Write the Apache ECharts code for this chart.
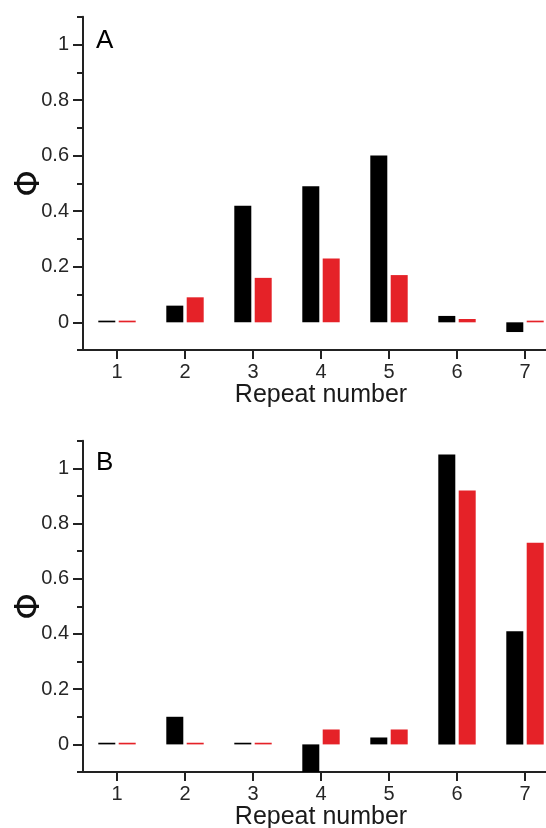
<!DOCTYPE html>
<html>
<head>
<meta charset="utf-8">
<script src="https://cdn.jsdelivr.net/npm/echarts@6/dist/echarts.min.js"></script>
<style>
html,body{margin:0;padding:0;background:#fff;}
#chart{width:546px;height:828px;}
</style>
</head>
<body>
<div id="chart"></div>
<script>
const categories = ['1', '2', '3', '4', '5', '6', '7'];
const panelABlack = [0.006, 0.06, 0.42, 0.49, 0.60, 0.023, -0.035];
const panelARed = [0.006, 0.09, 0.16, 0.23, 0.17, 0.012, 0.006];
const panelBBlack = [0.006, 0.10, 0.006, -0.10, 0.025, 1.05, 0.41];
const panelBRed = [0.006, 0.006, 0.006, 0.054, 0.054, 0.92, 0.73];
const yTickValues = [0, 0.2, 0.4, 0.6, 0.8, 1];
const xAxisTitle = 'Repeat number';
const yAxisTitle = 'Φ';
const panelLabels = ['A', 'B'];

const FONT = "'Liberation Sans', Arial, Helvetica, sans-serif";
const AXIS_COLOR = '#222';
const BLACK = '#000000';
const RED = '#e52228';

const chart = echarts.init(document.getElementById('chart'), null, {renderer: 'canvas'});

const grids = [
  {left: 83, top: 16.7, width: 476, height: 333.4, containLabel: false, outerBoundsMode: 'none'},
  {left: 83, top: 440.7, width: 476, height: 331.3, containLabel: false, outerBoundsMode: 'none'}
];

function xAxisFor(i) {
  return {
    type: 'category', gridIndex: i, data: categories, boundaryGap: true,
    axisLine: {show: true, onZero: false, lineStyle: {color: AXIS_COLOR, width: 2}},
    axisTick: {show: true, alignWithLabel: true, inside: false, length: 9, lineStyle: {color: AXIS_COLOR, width: 2}},
    axisLabel: {margin: 12, fontSize: 20, color: '#262626', fontFamily: FONT},
    name: xAxisTitle, nameLocation: 'middle', nameGap: 33, nameMoveOverlap: false,
    nameTextStyle: {fontSize: 25, color: '#1a1a1a', fontFamily: FONT},
    splitLine: {show: false}
  };
}
function yMainFor(i) {
  return {
    type: 'value', gridIndex: i, min: -0.1, max: 1.1, position: 'left',
    axisLine: {show: true, onZero: false, lineStyle: {color: AXIS_COLOR, width: 2}},
    axisTick: {show: true, inside: false, length: 10, customValues: yTickValues, lineStyle: {color: AXIS_COLOR, width: 2}},
    axisLabel: {margin: 14, fontSize: 20, color: '#262626', fontFamily: FONT, customValues: yTickValues},
    splitLine: {show: false},
    name: yAxisTitle, nameLocation: 'middle', nameRotate: 90, nameGap: 36, nameMoveOverlap: false,
    nameTextStyle: {fontSize: 34, color: '#111', fontFamily: "'DejaVu Sans', sans-serif"}
  };
}
function yMinorFor(i) {
  return {
    type: 'value', gridIndex: i, min: -0.1, max: 1.1, interval: 0.1, position: 'left', offset: 0,
    axisLine: {show: false},
    axisTick: {show: true, inside: false, length: 6, lineStyle: {color: AXIS_COLOR, width: 2}},
    axisLabel: {show: false},
    splitLine: {show: false}
  };
}
function barSeries(xi, yi, data, color) {
  return {
    type: 'bar', xAxisIndex: xi, yAxisIndex: yi, data: data,
    barWidth: 17, barGap: '20%',
    itemStyle: {color: color},
    silent: true, animation: false
  };
}

const option = {
  backgroundColor: '#ffffff',
  animation: false,
  grid: grids,
  xAxis: [xAxisFor(0), xAxisFor(1)],
  yAxis: [yMainFor(0), yMinorFor(0), yMainFor(1), yMinorFor(1)],
  series: [
    barSeries(0, 0, panelABlack, BLACK),
    barSeries(0, 0, panelARed, RED),
    barSeries(1, 2, panelBBlack, BLACK),
    barSeries(1, 2, panelBRed, RED)
  ],
  graphic: [
    {type: 'text', left: 96, top: 28, style: {text: panelLabels[0], fontSize: 26, fill: '#000', fontFamily: FONT}},
    {type: 'text', left: 96, top: 450, style: {text: panelLabels[1], fontSize: 26, fill: '#000', fontFamily: FONT}}
  ]
};
chart.setOption(option);
</script>
</body>
</html>
